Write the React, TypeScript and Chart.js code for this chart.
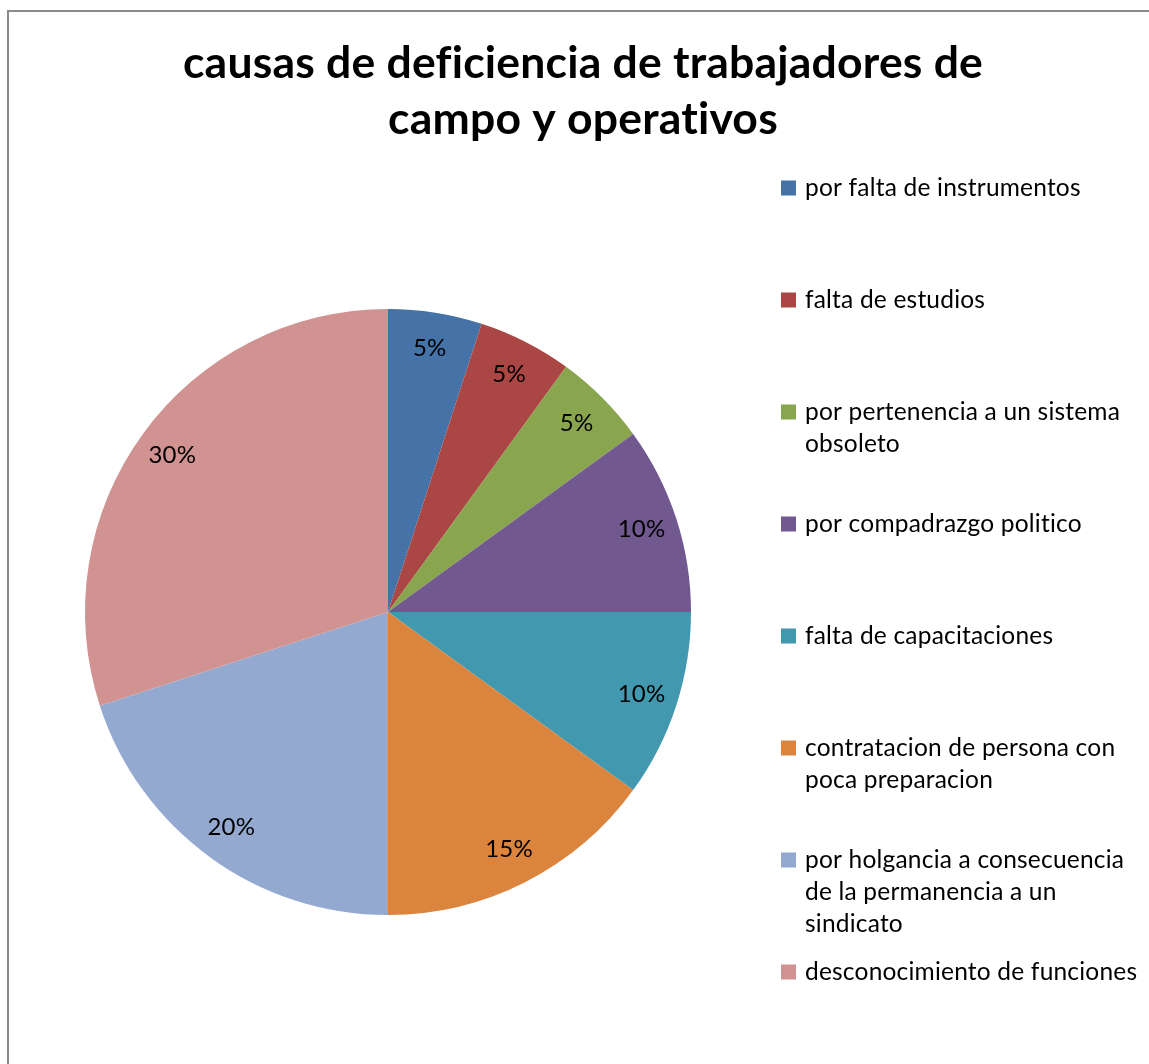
import React, { useEffect, useRef } from "react";
import { Chart, registerables } from "chart.js";

Chart.register(...registerables);

const TITLE_LINES = ["causas de deficiencia de trabajadores de", "campo y operativos"];
const CATEGORIES = [
  "por falta de instrumentos",
  "falta de estudios",
  "por pertenencia a un sistema obsoleto",
  "por compadrazgo politico",
  "falta de capacitaciones",
  "contratacion de persona con poca preparacion",
  "por holgancia a consecuencia de la permanencia a un sindicato",
  "desconocimiento de funciones",
];
const VALUES = [5, 5, 5, 10, 10, 15, 20, 30];
const COLORS = ["#4572A7", "#AA4643", "#89A54E", "#71588F", "#4198AF", "#DB843D", "#93A9CF", "#D19392"];

const FONT = "Lato, 'Open Sans', sans-serif";

const decorPlugin = {
  id: "decor",
  beforeDraw(chart: any) {
    const ctx = chart.ctx;
    ctx.save();
    ctx.fillStyle = "#ffffff";
    ctx.fillRect(0, 0, chart.width, chart.height);
    ctx.strokeStyle = "#8a8a8a";
    ctx.lineWidth = 2;
    ctx.strokeRect(8, 11, chart.width + 20, chart.height + 20);
    ctx.restore();
  },
  afterDatasetsDraw(chart: any) {
    const ctx = chart.ctx;
    ctx.save();
    try { (ctx as any).letterSpacing = "0.2px"; } catch (e) {}
    // title
    ctx.fillStyle = "#000";
    ctx.font = `bold 44.5px ${FONT}`;
    ctx.textAlign = "center";
    ctx.textBaseline = "alphabetic";
    TITLE_LINES.forEach((t, i) => ctx.fillText(t, 583, 78 + i * 56));

    // data labels
    const meta = chart.getDatasetMeta(0);
    const data = chart.data.datasets[0].data as number[];
    const total = data.reduce((a, b) => a + b, 0);
    ctx.font = `24px ${FONT}`;
    ctx.textBaseline = "middle";
    meta.data.forEach((arc: any, i: number) => {
      const p = arc.getProps(["startAngle", "endAngle", "outerRadius", "x", "y"], true);
      const mid = (p.startAngle + p.endAngle) / 2;
      const r = p.outerRadius * 0.88;
      const x = p.x + Math.cos(mid) * r;
      const y = p.y + Math.sin(mid) * r;
      ctx.fillText(`${Math.round((data[i] / total) * 100)}%`, x, y);
    });

    // legend
    ctx.textAlign = "left";
    ctx.font = `24.5px ${FONT}`;
    const maxW = 336;
    (chart.data.labels as string[]).forEach((label, i) => {
      const words = label.split(" ");
      const lines: string[] = [];
      let cur = "";
      words.forEach((w) => {
        const test = cur ? cur + " " + w : w;
        if (ctx.measureText(test).width > maxW && cur) {
          lines.push(cur);
          cur = w;
        } else cur = test;
      });
      if (cur) lines.push(cur);
      const y0 = 188 + 112 * i;
      ctx.fillStyle = COLORS[i];
      ctx.fillRect(781, y0 - 7.5, 15, 15);
      ctx.fillStyle = "#000";
      lines.forEach((ln, j) => ctx.fillText(ln, 805, y0 + j * 32));
    });
    ctx.restore();
  },
};

export default function App() {
  const ref = useRef<HTMLCanvasElement>(null);
  useEffect(() => {
    const chart = new Chart(ref.current!, {
      type: "pie",
      data: {
        labels: CATEGORIES,
        datasets: [{ data: VALUES, backgroundColor: COLORS, borderWidth: 0 }],
      },
      options: {
        responsive: false,
        animation: false,
        layout: { padding: { left: 85, right: 458, top: 309, bottom: 149 } },
        plugins: { legend: { display: false }, title: { display: false }, tooltip: { enabled: false } },
      },
      plugins: [decorPlugin],
    });
    return () => chart.destroy();
  }, []);
  return (
    <div style={{ position: "absolute", left: 0, top: 0, width: 1149, height: 1064 }}>
      <canvas ref={ref} width={1149} height={1064} style={{ display: "block" }} />
    </div>
  );
}
